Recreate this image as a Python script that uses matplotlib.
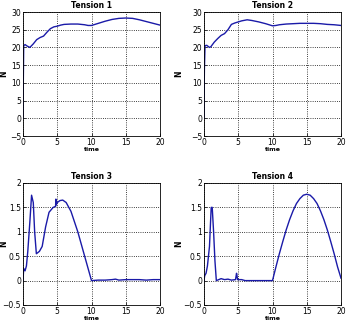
import matplotlib
matplotlib.use("Agg")
import matplotlib.pyplot as plt

# Tension 1
t1 = [0, 0.03, 0.06, 0.1, 0.3, 0.6, 1.0, 1.5, 2.0, 2.5, 3.0, 3.5, 4.0, 4.5, 5.0, 5.5, 6.0, 7.0, 8.0, 9.0, 9.5, 10.0, 11.0, 12.0, 13.0, 14.0, 15.0, 16.0, 17.0, 18.0, 19.0, 20.0]
y1 = [0, 8, 13, 20.5, 20.8, 20.4, 20.0, 21.0, 22.2, 22.8, 23.2, 24.3, 25.3, 25.8, 26.0, 26.3, 26.5, 26.6, 26.6, 26.4, 26.2, 26.2, 26.8, 27.4, 27.9, 28.2, 28.3, 28.2, 27.8, 27.3, 26.8, 26.3]

# Tension 2
t2 = [0, 0.03, 0.06, 0.15, 0.4, 0.8, 1.0, 1.5, 2.0, 2.5, 3.0, 3.5, 4.0, 4.5, 5.0, 5.5, 6.3, 7.0, 8.0, 9.0, 10.0, 10.5, 11.0, 12.0, 13.0, 14.0, 15.0, 16.0, 17.0, 18.0, 19.0, 20.0]
y2 = [0, 9, 14, 20.5, 20.6, 20.0, 20.2, 21.5, 22.5, 23.4, 23.9, 25.0, 26.5, 26.9, 27.2, 27.5, 27.8, 27.6, 27.2, 26.7, 26.1, 26.2, 26.4, 26.6, 26.7, 26.8, 26.8, 26.8, 26.7, 26.5, 26.4, 26.2]

# Tension 3
t3 = [0, 0.1, 0.3, 0.5, 0.7, 1.0, 1.25, 1.5, 1.7, 1.95, 2.4, 2.8, 3.3, 3.8, 4.4, 4.75, 4.8, 4.85, 5.0, 5.4, 5.8, 6.3, 7.0, 8.0, 9.0, 10.0, 11.0, 12.0, 13.0, 13.5, 14.0, 15.0, 16.0, 17.0, 18.0, 19.0, 20.0]
y3 = [0, 0.25, 0.2, 0.3, 0.6, 1.2, 1.75, 1.6, 1.0, 0.55, 0.6, 0.7, 1.1, 1.4, 1.5, 1.52, 1.67, 1.55, 1.6, 1.64, 1.65, 1.6, 1.42, 1.0, 0.5, 0.0, 0.01, 0.01, 0.02, 0.03, 0.01, 0.02, 0.02, 0.02, 0.01, 0.02, 0.02]

# Tension 4
t4 = [0, 0.1, 0.3, 0.5, 0.8, 1.05, 1.2, 1.4, 1.6, 1.8, 2.5, 3.0, 3.5, 4.0, 4.6, 4.75, 4.8, 4.9, 5.5, 6.0, 7.0, 8.0, 9.0, 10.0, 10.5, 11.0, 11.5, 12.0, 12.5, 13.0, 13.5, 14.0, 14.5, 15.0, 15.5, 16.0, 16.5, 17.0, 17.5, 18.0, 18.5, 19.0, 19.5, 20.0]
y4 = [0, 0.1, 0.15, 0.3, 0.7, 1.5, 1.5, 1.0, 0.4, 0.0, 0.04, 0.02, 0.03, 0.01, 0.02, 0.15, 0.12, 0.02, 0.02, 0.0, 0.0, 0.0, 0.0, 0.0, 0.28, 0.55, 0.8, 1.04, 1.25, 1.43, 1.58, 1.68, 1.75, 1.77, 1.75, 1.68, 1.58, 1.43, 1.25, 1.04, 0.8, 0.55, 0.28, 0.05]

series = [(t1, y1, "Tension 1"), (t2, y2, "Tension 2"), (t3, y3, "Tension 3"), (t4, y4, "Tension 4")]

fig = plt.figure(figsize=(3.48, 3.21), dpi=100)
boxes = [[23/348, 1-136/321, 137/348, 124/321],
         [204/348, 1-136/321, 137/348, 124/321],
         [23/348, 1-305/321, 137/348, 122/321],
         [204/348, 1-305/321, 137/348, 122/321]]

for i, (t, y, title) in enumerate(series):
    ax = fig.add_axes(boxes[i])
    ax.plot(t, y, color="#1a1aa8", lw=1.0)
    ax.set_xlim(0, 20)
    ax.set_xticks([0, 5, 10, 15, 20])
    if i < 2:
        ax.set_ylim(-5, 30)
        ax.set_yticks([-5, 0, 5, 10, 15, 20, 25, 30])
    else:
        ax.set_ylim(-0.5, 2)
        ax.set_yticks([-0.5, 0, 0.5, 1, 1.5, 2])
        ax.set_yticklabels(["\u22120.5", "0", "0.5", "1", "1.5", "2"])
    ax.grid(True, linestyle=":", color="black", lw=0.6)
    ax.tick_params(labelsize=5.5, length=2, width=0.5, direction="in", pad=1.5)
    for s in ax.spines.values():
        s.set_linewidth(0.6)
    ax.set_title(title, fontsize=5.5, fontweight="bold", pad=3)
    ax.set_xlabel("time", fontsize=4.5, fontweight="bold", labelpad=0)
    ax.set_ylabel("N", fontsize=5.5, fontweight="bold")
    ax.yaxis.set_label_coords(-0.11 if i % 2 == 0 else -0.15, 0.5)

plt.savefig("out.png", dpi=100)
